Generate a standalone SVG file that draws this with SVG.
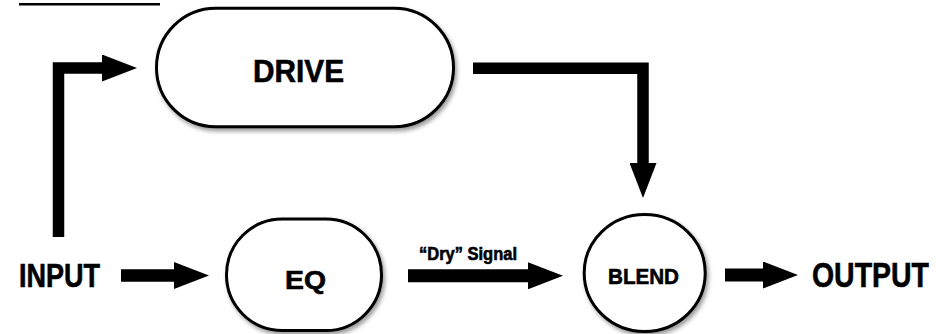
<svg xmlns="http://www.w3.org/2000/svg" width="943" height="334" viewBox="0 0 943 334">
  <style>
    .node { fill: #ffffff; stroke: #000000; stroke-width: 3; filter: url(#shadow); }
    .lbl { font-family: "Liberation Sans", Arial, sans-serif; font-weight: bold; fill: #000000; stroke: #000000; stroke-width: 0.6; }
    .conn { fill: none; stroke: #000000; stroke-linejoin: miter; stroke-linecap: butt; marker-end: url(#head); }
  </style>
  <defs>
    <filter id="shadow" x="-10%" y="-10%" width="130%" height="130%">
      <feDropShadow dx="2" dy="3" stdDeviation="2" flood-color="#000000" flood-opacity="0.4"/>
    </filter>
    <marker id="head" markerUnits="userSpaceOnUse" markerWidth="35" markerHeight="27" viewBox="0 0 35 27" refX="1" refY="13.5" orient="auto">
      <path d="M0,0 L35,13.5 L0,27 Z" fill="#000000"/>
    </marker>
  </defs>

  <rect x="19" y="3" width="141" height="2.5" fill="#000000"/>

  <g id="connectors">
    <path class="conn" stroke-width="11.5" d="M58.5,237 V68 H103"/>
    <path class="conn" stroke-width="12.5" d="M121,275.5 H175"/>
    <path class="conn" stroke-width="13" d="M408,275.8 H529"/>
    <path class="conn" stroke-width="11.5" d="M473,68.3 H643 V164"/>
    <path class="conn" stroke-width="13" d="M725,275 H764"/>
  </g>

  <g id="drive">
    <rect class="node" x="156.5" y="8.2" width="297" height="118.6" rx="59.3"/>
    <text class="lbl" x="253" y="82" font-size="32" textLength="91" lengthAdjust="spacingAndGlyphs">DRIVE</text>
  </g>

  <g id="input">
    <text class="lbl" x="19" y="287" font-size="33" textLength="81" lengthAdjust="spacingAndGlyphs">INPUT</text>
  </g>

  <g id="eq">
    <rect class="node" x="226.5" y="219" width="155" height="111.5" rx="55.7"/>
    <text class="lbl" x="285" y="289" font-size="26" textLength="41" lengthAdjust="spacingAndGlyphs">EQ</text>
  </g>

  <g id="dry-label">
    <text class="lbl" x="419" y="260" font-size="17.5" stroke-width="0.3" textLength="98" lengthAdjust="spacingAndGlyphs">“Dry” Signal</text>
  </g>

  <g id="blend">
    <ellipse class="node" cx="644.7" cy="273" rx="60.5" ry="58.5"/>
    <text class="lbl" x="608" y="284" font-size="22" textLength="71" lengthAdjust="spacingAndGlyphs">BLEND</text>
  </g>

  <g id="output">
    <text class="lbl" transform="translate(812,287) scale(0.79,1)" x="0" y="0" font-size="36">OUTPUT</text>
  </g>
</svg>
